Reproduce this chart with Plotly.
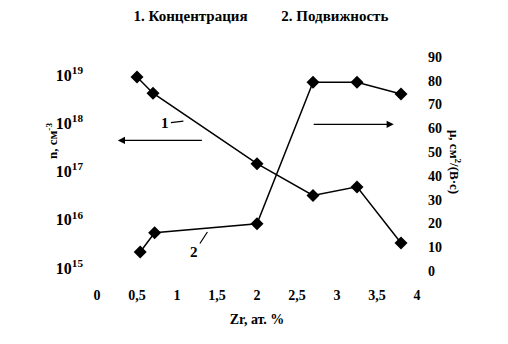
import plotly.graph_objects as go

# Data
zr_conc = [0.5, 0.7, 2.0, 2.7, 3.25, 3.8]
concentration = [9.1e18, 4.2e18, 1.45e17, 3.2e16, 4.8e16, 3.3e15]
zr_mob = [0.54, 0.72, 2.0, 2.7, 3.25, 3.8]
mobility = [8.0, 16.1, 19.9, 79.4, 79.4, 74.4]

x_ticks = [0, 0.5, 1, 1.5, 2, 2.5, 3, 3.5, 4]
x_ticktext = ["0", "0,5", "1", "1,5", "2", "2,5", "3", "3,5", "4"]
n_ticks = [1e15, 1e16, 1e17, 1e18, 1e19]
n_ticktext = ["10<sup>15</sup>", "10<sup>16</sup>", "10<sup>17</sup>", "10<sup>18</sup>", "10<sup>19</sup>"]
mu_ticks = [0, 10, 20, 30, 40, 50, 60, 70, 80, 90]

FONT = "Liberation Serif, Times New Roman, DejaVu Serif, serif"
bold = dict(family=FONT, color="black", weight="bold")

fig = go.Figure()
fig.add_trace(go.Scatter(x=zr_conc, y=concentration, mode="lines+markers",
                         line=dict(color="black", width=1.5),
                         marker=dict(symbol="diamond", size=10, color="black"),
                         yaxis="y", showlegend=False))
fig.add_trace(go.Scatter(x=zr_mob, y=mobility, mode="lines+markers",
                         line=dict(color="black", width=1.5),
                         marker=dict(symbol="diamond", size=10, color="black"),
                         yaxis="y2", showlegend=False))

axis_common = dict(showgrid=False, zeroline=False, showline=False)

fig.update_layout(
    width=508, height=344,
    margin=dict(l=97, r=91, t=57, b=73),
    paper_bgcolor="white", plot_bgcolor="white",
    font=dict(family=FONT, color="black"),
    title=dict(text="1. Концентрация" + "\u00a0" * 9 + "2. Подвижность",
               x=261 / 508, xanchor="center", y=1 - 16 / 344, yanchor="middle",
               font=dict(size=15, **bold)),
    xaxis=dict(range=[0, 4], tickvals=x_ticks, ticktext=x_ticktext, ticks="",
               ticklabelstandoff=14, tickfont=dict(size=14, **bold),
               title=dict(text="Zr, ат. %", font=dict(size=14, **bold), standoff=12),
               **axis_common),
    xaxis2=dict(range=[0, 4], overlaying="x", side="bottom", anchor="y",
                tickvals=[1, 2, 3], ticks="outside", ticklen=5, tickwidth=1,
                tickcolor="black", showticklabels=False, **axis_common),
    yaxis=dict(type="log", range=[14.938, 19.373], tickvals=n_ticks, ticktext=n_ticktext,
               ticks="", ticklabelstandoff=13, tickfont=dict(size=16, **bold),
               **axis_common),
    yaxis2=dict(range=[0, 90], overlaying="y", side="right", tickvals=mu_ticks,
                ticks="", ticklabelstandoff=10, tickfont=dict(size=14, **bold),
                **axis_common),
    yaxis3=dict(range=[0, 90], overlaying="y", side="right", anchor="x",
                tickvals=[30, 50], ticks="outside", ticklen=5, tickwidth=1,
                tickcolor="black", showticklabels=False, **axis_common),
)

annotations = [
    # axis titles
    dict(text="n, см<sup>-3</sup>", xref="paper", yref="paper",
         x=(42 - 97) / 320, y=(271 - 141) / 214, textangle=-90, showarrow=False,
         font=dict(size=13, **bold)),
    dict(text="μ, см<sup>2</sup>/(В·с)", xref="paper", yref="paper",
         x=(465 - 97) / 320, y=(271 - 162) / 214, textangle=90, showarrow=False,
         font=dict(size=13, **bold)),
    # arrows pointing to axes
    dict(x=0.26, y=54.9, xref="x", yref="y2", ax=1.33, ay=54.9, axref="x", ayref="y2",
         text="", showarrow=True, arrowhead=2, arrowsize=1.2, arrowwidth=1.2,
         arrowcolor="black"),
    dict(x=3.71, y=61.7, xref="x", yref="y2", ax=2.69, ay=61.7, axref="x", ayref="y2",
         text="", showarrow=True, arrowhead=2, arrowsize=1.2, arrowwidth=1.2,
         arrowcolor="black"),
    # curve labels
    dict(x=1.08, y=63.0, xref="x", yref="y2", ax=-18, ay=2, text="1",
         showarrow=True, arrowhead=0, arrowwidth=1.2, arrowcolor="black",
         font=dict(size=15, **bold)),
    dict(x=1.38, y=16.4, xref="x", yref="y2", ax=-13, ay=20, text="2",
         showarrow=True, arrowhead=0, arrowwidth=1.2, arrowcolor="black",
         font=dict(size=15, **bold)),
]
fig.update_layout(annotations=annotations)

fig.write_html("out.html")
